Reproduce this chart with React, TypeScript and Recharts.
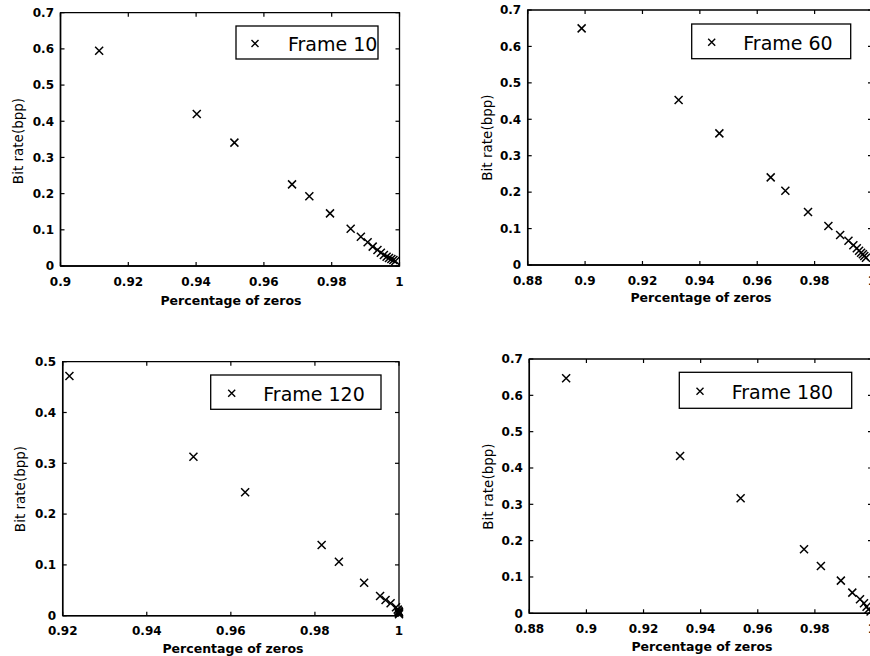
import React from 'react';
import { ScatterChart, Scatter, XAxis, YAxis, ReferenceArea } from 'recharts';

const FONT = '"DejaVu Sans", Verdana, sans-serif';

// ---------- data ----------
const frame10X = [0.9114, 0.9402, 0.9513, 0.9683, 0.9734, 0.9795, 0.9856, 0.9886, 0.9906, 0.9921, 0.9935, 0.9945, 0.9954, 0.9962, 0.9969, 0.9976, 0.9982, 0.9988];
const frame10Y = [0.595, 0.42, 0.341, 0.2256, 0.1925, 0.1455, 0.103, 0.081, 0.0655, 0.0536, 0.0442, 0.0367, 0.0304, 0.0257, 0.0221, 0.0193, 0.0166, 0.0138];

const frame60X = [0.8988, 0.9326, 0.9468, 0.9647, 0.9698, 0.9777, 0.9848, 0.9889, 0.9918, 0.9935, 0.9947, 0.9955, 0.9962, 0.9968, 0.9973, 0.9979];
const frame60Y = [0.6496, 0.4529, 0.3614, 0.2406, 0.204, 0.1455, 0.107, 0.0823, 0.0668, 0.0541, 0.0459, 0.0393, 0.0338, 0.0294, 0.0247, 0.0201];

const frame120X = [0.9216, 0.9511, 0.9634, 0.9816, 0.9857, 0.9917, 0.9955, 0.9968, 0.998, 0.9993, 0.9997, 0.9999, 1.0, 1.0, 1.0];
const frame120Y = [0.4719, 0.313, 0.2429, 0.1392, 0.1063, 0.065, 0.0388, 0.0309, 0.0244, 0.0165, 0.012, 0.009, 0.007, 0.005, 0.003];

const frame180X = [0.8929, 0.9328, 0.954, 0.9762, 0.9821, 0.9891, 0.9931, 0.9958, 0.9972, 0.9981, 0.9988, 0.9995];
const frame180Y = [0.6468, 0.433, 0.3165, 0.1761, 0.1303, 0.0899, 0.0569, 0.0385, 0.0275, 0.0182, 0.011, 0.005];

const xTicks10 = [0.9, 0.92, 0.94, 0.96, 0.98, 1];
const xTicks60 = [0.88, 0.9, 0.92, 0.94, 0.96, 0.98, 1];
const xTicks120 = [0.92, 0.94, 0.96, 0.98, 1];
const xTicks180 = [0.88, 0.9, 0.92, 0.94, 0.96, 0.98, 1];
const yTicks07 = [0, 0.1, 0.2, 0.3, 0.4, 0.5, 0.6, 0.7];
const yTicks05 = [0, 0.1, 0.2, 0.3, 0.4, 0.5];

const legendLabels = ['Frame 10', 'Frame 60', 'Frame 120', 'Frame 180'];
const xAxisTitle = 'Percentage of zeros';
const yAxisTitle = 'Bit rate(bpp)';

const zip = (xs: number[], ys: number[]) => xs.map((x, i) => ({ x, y: ys[i] }));

// ---------- layout ----------
const W = 880;
const H = 656;
const Y_AXIS_W = 40;
const X_AXIS_H = 30;
const TICK_LEN = 4;

type PanelCfg = {
  data: { x: number; y: number }[];
  xDomain: [number, number];
  yDomain: [number, number];
  xTicks: number[];
  yTicks: number[];
  legend: string;
  pl: number; pr: number; pt: number; pb: number;
  lg: { x: number; y: number; w: number; h: number; mx: number; tx: number };
  xl: { x: number; y: number };
  yl: { x: number; y: number };
};

const panels: PanelCfg[] = [
  {
    data: zip(frame10X, frame10Y), xDomain: [0.9, 1], yDomain: [0, 0.7], xTicks: xTicks10, yTicks: yTicks07, legend: legendLabels[0],
    pl: 60.5, pr: 399.5, pt: 12.7, pb: 266,
    lg: { x: 236, y: 26, w: 142, h: 33, mx: 255, tx: 288 },
    xl: { x: 231, y: 304.5 }, yl: { x: 23, y: 141 },
  },
  {
    data: zip(frame60X, frame60Y), xDomain: [0.88, 1], yDomain: [0, 0.7], xTicks: xTicks60, yTicks: yTicks07, legend: legendLabels[1],
    pl: 527.7, pr: 872, pt: 10, pb: 265,
    lg: { x: 691.7, y: 24, w: 159, h: 34.7, mx: 711.7, tx: 743.3 },
    xl: { x: 701, y: 302 }, yl: { x: 491.5, y: 137.5 },
  },
  {
    data: zip(frame120X, frame120Y), xDomain: [0.92, 1], yDomain: [0, 0.5], xTicks: xTicks120, yTicks: yTicks05, legend: legendLabels[2],
    pl: 62.7, pr: 399, pt: 361.7, pb: 615.7,
    lg: { x: 210.7, y: 375, w: 170.3, h: 34.3, mx: 231.7, tx: 263.3 },
    xl: { x: 233, y: 653 }, yl: { x: 25, y: 489 },
  },
  {
    data: zip(frame180X, frame180Y), xDomain: [0.88, 1], yDomain: [0, 0.7], xTicks: xTicks180, yTicks: yTicks07, legend: legendLabels[3],
    pl: 529.3, pr: 872, pt: 359, pb: 613.3,
    lg: { x: 679.3, y: 372.3, w: 172.4, h: 36, mx: 700, tx: 731.7 },
    xl: { x: 702, y: 651 }, yl: { x: 493, y: 486.5 },
  },
];

const Cross = (props: any) => {
  const { cx, cy } = props;
  if (cx == null || cy == null) return null;
  const s = 4;
  return (
    <path
      d={`M${cx - s},${cy - s}L${cx + s},${cy + s}M${cx + s},${cy - s}L${cx - s},${cy + s}`}
      stroke="#000"
      strokeWidth={1.5}
      fill="none"
    />
  );
};

function Panel({ p }: { p: PanelCfg }) {
  const margin = {
    top: p.pt,
    left: p.pl - Y_AXIS_W,
    right: W - p.pr,
    bottom: H - p.pb - X_AXIS_H,
  };
  const xTick = (props: any) => {
    const { x, payload } = props;
    return (
      <g>
        <line x1={x} x2={x} y1={p.pb} y2={p.pb - TICK_LEN} stroke="#000" strokeWidth={1.2} />
        <line x1={x} x2={x} y1={p.pt} y2={p.pt + TICK_LEN} stroke="#000" strokeWidth={1.2} />
        <text x={x} y={p.pb + 19.5} textAnchor="middle" fontFamily={FONT} fontWeight="bold" fontSize={12} fill="#000">
          {String(payload.value)}
        </text>
      </g>
    );
  };
  const yTick = (props: any) => {
    const { y, payload } = props;
    return (
      <g>
        <line x1={p.pl} x2={p.pl + TICK_LEN} y1={y} y2={y} stroke="#000" strokeWidth={1.2} />
        <line x1={p.pr} x2={p.pr - TICK_LEN} y1={y} y2={y} stroke="#000" strokeWidth={1.2} />
        <text x={p.pl - 6.5} y={y + 4.3} textAnchor="end" fontFamily={FONT} fontWeight="bold" fontSize={12} fill="#000">
          {String(payload.value)}
        </text>
      </g>
    );
  };
  const xLabel = () => (
    <text x={p.xl.x} y={p.xl.y} textAnchor="middle" fontFamily={FONT} fontWeight="bold" fontSize={12.5} fill="#000">
      {xAxisTitle}
    </text>
  );
  const yLabel = () => (
    <text
      x={p.yl.x}
      y={p.yl.y}
      textAnchor="middle"
      transform={`rotate(-90 ${p.yl.x} ${p.yl.y})`}
      fontFamily={FONT}
      fontSize={13.5}
      fill="#000"
    >
      {yAxisTitle}
    </text>
  );
  return (
    <div style={{ position: 'absolute', left: 0, top: 0 }}>
      <ScatterChart width={W} height={H} margin={margin}>
        <XAxis
          type="number"
          dataKey="x"
          domain={p.xDomain}
          ticks={p.xTicks}
          interval={0}
          height={X_AXIS_H}
          tickLine={false}
          axisLine={{ stroke: '#000', strokeWidth: 1.5 }}
          tick={xTick}
          label={{ value: xAxisTitle, content: xLabel }}
        />
        <YAxis
          type="number"
          dataKey="y"
          domain={p.yDomain}
          ticks={p.yTicks}
          interval={0}
          width={Y_AXIS_W}
          tickLine={false}
          axisLine={{ stroke: '#000', strokeWidth: 1.5 }}
          tick={yTick}
          label={{ value: yAxisTitle, content: yLabel }}
        />
        <ReferenceArea
          x1={p.xDomain[0]}
          x2={p.xDomain[1]}
          y1={p.yDomain[0]}
          y2={p.yDomain[1]}
          fill="none"
          fillOpacity={0}
          stroke="#000"
          strokeWidth={1.3}
          ifOverflow="visible"
        />
        <Scatter data={p.data} shape={Cross} isAnimationActive={false} />
      </ScatterChart>
    </div>
  );
}

function Legends() {
  return (
    <svg width={W} height={H} style={{ position: 'absolute', left: 0, top: 0 }}>
      {panels.map((p, i) => {
        const cy = p.lg.y + p.lg.h / 2 + 1;
        const s = 3.5;
        return (
          <g key={i}>
            <rect x={p.lg.x} y={p.lg.y} width={p.lg.w} height={p.lg.h} fill="#fff" stroke="#000" strokeWidth={1.3} />
            <path
              d={`M${p.lg.mx - s},${cy - s}L${p.lg.mx + s},${cy + s}M${p.lg.mx + s},${cy - s}L${p.lg.mx - s},${cy + s}`}
              stroke="#000"
              strokeWidth={1.4}
            />
            <text x={p.lg.tx} y={cy + 7.5} fontFamily={FONT} fontSize={19} fill="#000">
              {p.legend}
            </text>
          </g>
        );
      })}
    </svg>
  );
}

export default function App() {
  return (
    <div style={{ position: 'absolute', left: 0, top: 0, width: 870, height: 656, overflow: 'hidden', background: '#fff' }}>
      {panels.map((p, i) => (
        <Panel key={i} p={p} />
      ))}
      <Legends />
    </div>
  );
}
